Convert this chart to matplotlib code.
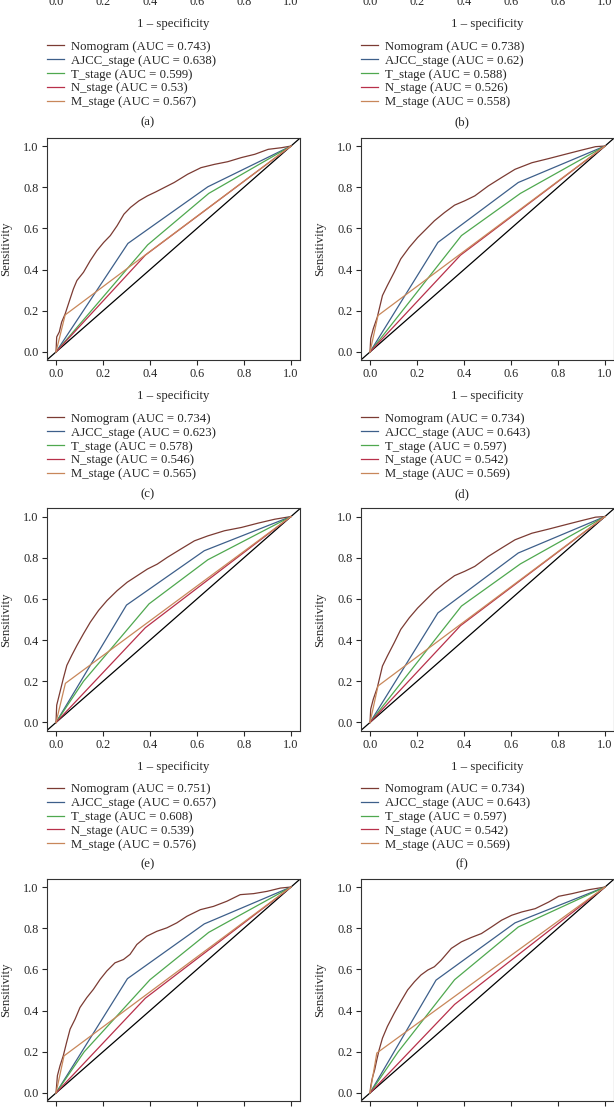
import matplotlib
matplotlib.use("Agg")
import matplotlib.pyplot as plt
from matplotlib.lines import Line2D

plt.rcParams['font.family'] = ['Liberation Serif', 'DejaVu Serif']

# colours of the five models, in legend order
MODELS = ['Nomogram', 'AJCC_stage', 'T_stage', 'N_stage', 'M_stage']
COLORS = ['#7b3b33', '#3d5f8a', '#4fa84f', '#b8304a', '#c8875a']

# AUC values printed in the legends (a)-(f)
AUC_A = ['0.743', '0.638', '0.599', '0.53', '0.567']
AUC_B = ['0.738', '0.62', '0.588', '0.526', '0.558']
AUC_C = ['0.734', '0.623', '0.578', '0.546', '0.565']
AUC_D = ['0.734', '0.643', '0.597', '0.542', '0.569']
AUC_E = ['0.751', '0.657', '0.608', '0.539', '0.576']
AUC_F = ['0.734', '0.643', '0.597', '0.542', '0.569']

# ---- panel (c) ----
nomo_c_x = [0, 0.003, 0.014, 0.024, 0.039, 0.06, 0.074, 0.089, 0.117, 0.146, 0.174, 0.203, 0.231, 0.26, 0.289,
            0.317, 0.353, 0.389, 0.424, 0.46, 0.503, 0.56, 0.617, 0.674, 0.731, 0.789, 0.846, 0.903, 0.96, 1.0]
nomo_c_y = [0, 0.073, 0.097, 0.145, 0.185, 0.258, 0.306, 0.347, 0.387, 0.444, 0.492, 0.532, 0.565, 0.613, 0.669,
            0.702, 0.734, 0.758, 0.777, 0.798, 0.823, 0.863, 0.895, 0.911, 0.924, 0.944, 0.96, 0.984, 0.992, 1.0]
ajcc_c_x, ajcc_c_y = [0, 0.306, 0.646, 1], [0, 0.527, 0.802, 1]
t_c_x, t_c_y = [0, 0.39, 0.65, 1], [0, 0.52, 0.77, 1]
n_c_x, n_c_y = [0, 0.38, 1], [0, 0.47, 1]
m_c_x, m_c_y = [0, 0.039, 1], [0, 0.18, 1]

# ---- panel (d) (panel (f) shows the same curves) ----
nomo_d_x = [0, 0.003, 0.014, 0.031, 0.043, 0.053, 0.074, 0.103, 0.131, 0.167, 0.203, 0.239, 0.274, 0.317, 0.36,
            0.403, 0.446, 0.503, 0.56, 0.617, 0.689, 0.76, 0.831, 0.903, 0.96, 1.0]
nomo_d_y = [0, 0.065, 0.113, 0.169, 0.226, 0.274, 0.323, 0.387, 0.452, 0.508, 0.556, 0.597, 0.637, 0.677, 0.713,
            0.734, 0.758, 0.806, 0.847, 0.887, 0.919, 0.939, 0.96, 0.981, 0.997, 1.0]
ajcc_d_x, ajcc_d_y = [0, 0.289, 0.631, 1], [0, 0.532, 0.823, 1]
t_d_x, t_d_y = [0, 0.389, 0.64, 1], [0, 0.565, 0.77, 1]
n_d_x, n_d_y = [0, 0.385, 1], [0, 0.47, 1]
m_d_x, m_d_y = [0, 0.034, 1], [0, 0.177, 1]

# ---- panel (e) ----
nomo_e_x = [0, 0.003, 0.017, 0.031, 0.046, 0.067, 0.089, 0.117, 0.146, 0.181, 0.217, 0.26, 0.303, 0.346, 0.389,
            0.431, 0.474, 0.531, 0.589, 0.646, 0.717, 0.789, 0.86, 0.931, 1.0]
nomo_e_y = [0, 0.084, 0.148, 0.213, 0.277, 0.326, 0.374, 0.431, 0.487, 0.544, 0.592, 0.64, 0.681, 0.713, 0.745,
            0.769, 0.802, 0.842, 0.882, 0.906, 0.931, 0.947, 0.968, 0.987, 1.0]
ajcc_e_x, ajcc_e_y = [0, 0.3, 0.631, 1], [0, 0.57, 0.834, 1]
t_e_x, t_e_y = [0, 0.117, 0.396, 0.646, 1], [0, 0.2, 0.576, 0.79, 1]
n_e_x, n_e_y = [0, 0.38, 1], [0, 0.46, 1]
m_e_x, m_e_y = [0, 0.04, 1], [0, 0.19, 1]

# ---- panel (g) ----
nomo_g_x = [0, 0.006, 0.017, 0.031, 0.045, 0.06, 0.081, 0.102, 0.131, 0.159, 0.188, 0.216, 0.251, 0.287, 0.315,
            0.344, 0.386, 0.429, 0.472, 0.514, 0.557, 0.614, 0.67, 0.727, 0.784, 0.841, 0.898, 0.955, 1.0]
nomo_g_y = [0, 0.084, 0.132, 0.181, 0.245, 0.31, 0.358, 0.415, 0.463, 0.503, 0.552, 0.592, 0.632, 0.648, 0.673,
            0.721, 0.761, 0.785, 0.802, 0.826, 0.858, 0.89, 0.906, 0.931, 0.963, 0.968, 0.979, 0.995, 1.0]
ajcc_g_x, ajcc_g_y = [0, 0.304, 0.631, 1], [0, 0.555, 0.821, 1]
t_g_x, t_g_y = [0, 0.12, 0.4, 0.65, 1], [0, 0.2, 0.55, 0.78, 1]
n_g_x, n_g_y = [0, 0.38, 1], [0, 0.46, 1]
m_g_x, m_g_y = [0, 0.034, 1], [0, 0.18, 1]

# ---- panel (h) ----
nomo_h_x = [0, 0.003, 0.01, 0.02, 0.029, 0.039, 0.053, 0.074, 0.103, 0.131, 0.16, 0.189, 0.217, 0.246, 0.274,
            0.303, 0.346, 0.389, 0.431, 0.474, 0.517, 0.56, 0.603, 0.646, 0.703, 0.76, 0.803, 0.86, 0.931, 1.0]
nomo_h_y = [0, 0.032, 0.073, 0.113, 0.161, 0.21, 0.266, 0.323, 0.387, 0.444, 0.5, 0.54, 0.573, 0.597, 0.613,
            0.645, 0.702, 0.734, 0.755, 0.774, 0.806, 0.839, 0.863, 0.879, 0.895, 0.927, 0.955, 0.968, 0.987, 1.0]
ajcc_h_x, ajcc_h_y = [0, 0.281, 0.617, 1], [0, 0.548, 0.826, 1]
t_h_x, t_h_y = [0, 0.12, 0.36, 0.631, 1], [0, 0.2, 0.55, 0.806, 1]
n_h_x, n_h_y = [0, 0.36, 1], [0, 0.43, 1]
m_h_x, m_h_y = [0, 0.029, 1], [0, 0.194, 1]

TICKS = [0.0, 0.2, 0.4, 0.6, 0.8, 1.0]
TICK_LABELS = ['0.0', '0.2', '0.4', '0.6', '0.8', '1.0']

W, H = 614, 1107
AX_W, AX_H = 253.8, 222.4
COL_LEFT = [46.6, 360.6]
ROW_TOP = [137.8 - 372, 137.8, 508.3, 878.8]
TXT = '#262626'
FS = 9.2

fig = plt.figure(figsize=(W / 100, H / 100), dpi=100)


def make_panel(row, col, tag, curves, aucs):
    left, top = COL_LEFT[col], ROW_TOP[row]
    ax = fig.add_axes([left / W, 1 - (top + AX_H) / H, AX_W / W, AX_H / H])
    ax.set_xlim(-0.04, 1.04)
    ax.set_ylim(-0.04, 1.04)
    ax.axline((0, 0), slope=1, color='black', lw=0.9, zorder=1)
    if curves:
        for (xs, ys), c in zip(curves, COLORS):
            ax.plot(xs, ys, color=c, lw=0.9, zorder=2)
    ax.set_xticks(TICKS, TICK_LABELS)
    ax.set_yticks(TICKS, TICK_LABELS)
    ax.tick_params(length=3.5, width=0.8, pad=2.2, labelsize=8.8, colors=TXT)
    for s in ax.spines.values():
        s.set_linewidth(0.8)
        s.set_color('#333333')
    ax.set_xlabel('1 – specificity', fontsize=FS, color=TXT)
    ax.xaxis.set_label_coords(0.5, -36 / AX_H)
    ax.xaxis.label.set_va('center')
    ax.set_ylabel('Sensitivity', fontsize=FS, color=TXT)
    ax.yaxis.set_label_coords(-40.6 / AX_W, 0.5)
    ax.yaxis.label.set_va('center')

    if aucs:
        handles = [Line2D([], [], color=c, lw=0.9) for c in COLORS]
        labels = [f'{m} (AUC = {a})' for m, a in zip(MODELS, aucs)]
        ax.legend(handles, labels, loc='upper left', bbox_to_anchor=(0, -52.5 / AX_H),
                  frameon=False, fontsize=FS, labelcolor=TXT, borderpad=0, borderaxespad=0,
                  handlelength=1.4, handletextpad=0.5, labelspacing=0.15)
        bottom = top + AX_H
        fig.text((148 + 314 * col) / W, 1 - (bottom + 134) / H, f'({tag})',
                 ha='center', va='center', fontsize=FS, color=TXT)
    return ax


make_panel(0, 0, 'a', None, AUC_A)
make_panel(0, 1, 'b', None, AUC_B)
make_panel(1, 0, 'c', [(nomo_c_x, nomo_c_y), (ajcc_c_x, ajcc_c_y), (t_c_x, t_c_y), (n_c_x, n_c_y), (m_c_x, m_c_y)], AUC_C)
make_panel(1, 1, 'd', [(nomo_d_x, nomo_d_y), (ajcc_d_x, ajcc_d_y), (t_d_x, t_d_y), (n_d_x, n_d_y), (m_d_x, m_d_y)], AUC_D)
make_panel(2, 0, 'e', [(nomo_e_x, nomo_e_y), (ajcc_e_x, ajcc_e_y), (t_e_x, t_e_y), (n_e_x, n_e_y), (m_e_x, m_e_y)], AUC_E)
make_panel(2, 1, 'f', [(nomo_d_x, nomo_d_y), (ajcc_d_x, ajcc_d_y), (t_d_x, t_d_y), (n_d_x, n_d_y), (m_d_x, m_d_y)], AUC_F)
make_panel(3, 0, 'g', [(nomo_g_x, nomo_g_y), (ajcc_g_x, ajcc_g_y), (t_g_x, t_g_y), (n_g_x, n_g_y), (m_g_x, m_g_y)], None)
make_panel(3, 1, 'h', [(nomo_h_x, nomo_h_y), (ajcc_h_x, ajcc_h_y), (t_h_x, t_h_y), (n_h_x, n_h_y), (m_h_x, m_h_y)], None)

fig.savefig('out.png', dpi=100)
